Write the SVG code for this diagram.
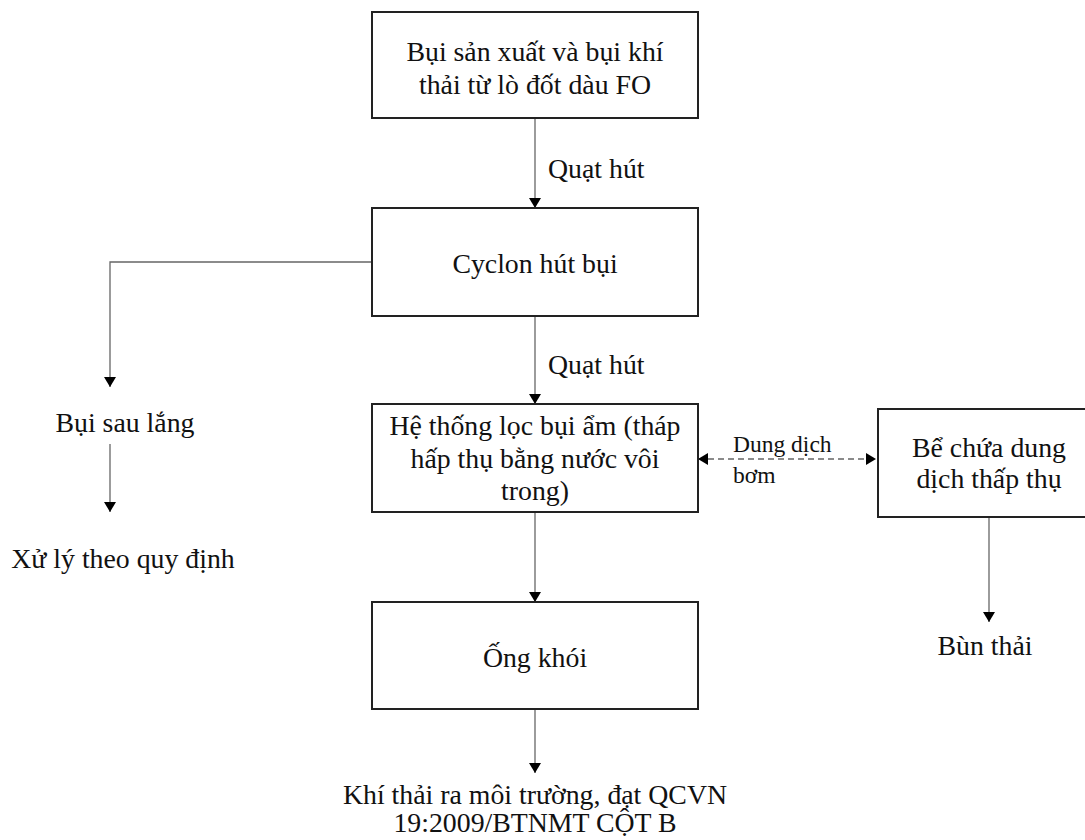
<svg xmlns="http://www.w3.org/2000/svg" width="1085" height="840" viewBox="0 0 1085 840">
<style>
.box{fill:#fff;stroke:#222;stroke-width:2}
.t{font-family:"Liberation Serif","Times New Roman",serif;font-size:27.8px;fill:#111}
.s{font-family:"Liberation Serif","Times New Roman",serif;font-size:23.5px;fill:#111}
.c{fill:none;stroke:#666;stroke-width:1.3}
.d{fill:none;stroke:#666;stroke-width:1.3;stroke-dasharray:6 4}
</style>
<defs>
<marker id="ah" viewBox="0 0 10 12" refX="10" refY="6" markerWidth="10" markerHeight="12" markerUnits="userSpaceOnUse" orient="auto">
<path d="M0,0 L10,6 L0,12 Z" fill="#000"/>
</marker>
<marker id="ahs" viewBox="0 0 10 12" refX="0" refY="6" markerWidth="10" markerHeight="12" markerUnits="userSpaceOnUse" orient="auto">
<path d="M10,0 L0,6 L10,12 Z" fill="#000"/>
</marker>
</defs>
<rect width="1085" height="840" fill="#fff"/>
<g id="connectors">
<line class="c" x1="535" y1="118" x2="535" y2="208" marker-end="url(#ah)"/>
<line class="c" x1="535" y1="316" x2="535" y2="404" marker-end="url(#ah)"/>
<line class="c" x1="535" y1="512" x2="535" y2="602" marker-end="url(#ah)"/>
<line class="c" x1="535" y1="709" x2="535" y2="773" marker-end="url(#ah)"/>
<polyline class="c" points="372,262 110,262 110,387" marker-end="url(#ah)"/>
<line class="c" x1="110" y1="444" x2="110" y2="512" marker-end="url(#ah)"/>
<line class="c" x1="989" y1="517" x2="989" y2="622" marker-end="url(#ah)"/>
<line class="d" x1="698" y1="459" x2="876" y2="459" marker-start="url(#ahs)" marker-end="url(#ah)"/>
<text class="t" x="548" y="178">Quạt hút</text>
<text class="t" x="548" y="374">Quạt hút</text>
<text class="s" x="733" y="452">Dung dịch</text>
<text class="s" x="733" y="483">bơm</text>
</g>
<g id="n1">
<rect class="box" x="372" y="12" width="326" height="106"/>
<text class="t" x="535" y="61" text-anchor="middle">Bụi sản xuất và bụi khí</text>
<text class="t" x="535" y="94" text-anchor="middle">thải từ lò đốt dàu FO</text>
</g>
<g id="n2">
<rect class="box" x="372" y="208" width="326" height="108"/>
<text class="t" x="535" y="273" text-anchor="middle">Cyclon hút bụi</text>
</g>
<g id="n3">
<rect class="box" x="372" y="404" width="326" height="108"/>
<text class="t" x="535" y="435" text-anchor="middle">Hệ thống lọc bụi ẩm (tháp</text>
<text class="t" x="535" y="468" text-anchor="middle">hấp thụ bằng nước vôi</text>
<text class="t" x="535" y="500" text-anchor="middle">trong)</text>
</g>
<g id="n4">
<rect class="box" x="372" y="602" width="326" height="107"/>
<text class="t" x="535" y="667" text-anchor="middle">Ống khói</text>
</g>
<g id="n5">
<rect class="box" x="878" y="409" width="220" height="108"/>
<text class="t" x="989" y="457" text-anchor="middle">Bể chứa dung</text>
<text class="t" x="989" y="488" text-anchor="middle">dịch thấp thụ</text>
</g>
<g id="n6">
<text class="t" x="125" y="432" text-anchor="middle">Bụi sau lắng</text>
</g>
<g id="n7">
<text class="t" x="123" y="568" text-anchor="middle">Xử lý theo quy định</text>
</g>
<g id="n8">
<text class="t" x="985" y="655" text-anchor="middle">Bùn thải</text>
</g>
<g id="n9">
<text class="t" x="535" y="804" text-anchor="middle">Khí thải ra môi trường, đạt QCVN</text>
<text class="t" x="535" y="832" text-anchor="middle">19:2009/BTNMT CỘT B</text>
</g>
</svg>
